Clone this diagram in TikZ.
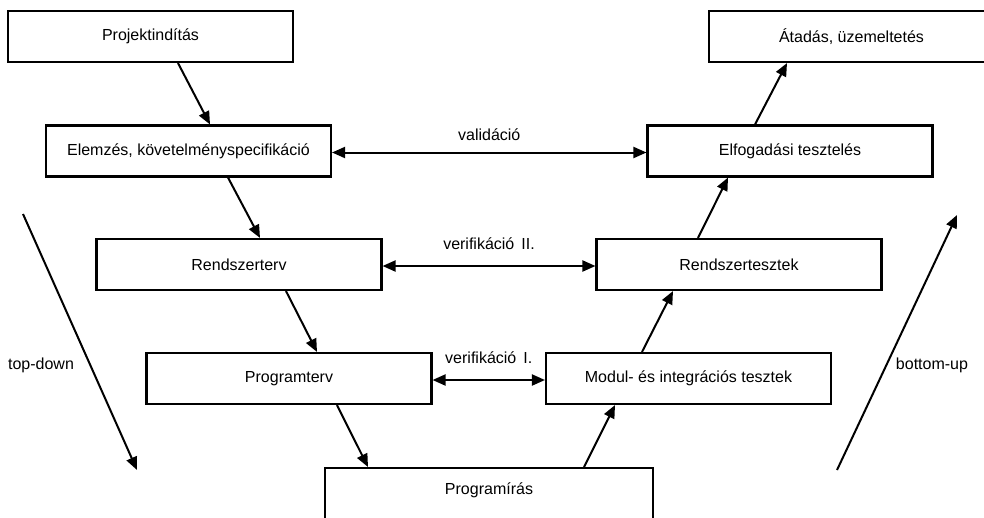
\documentclass[tikz,border=0pt]{standalone}
\usepackage{fontspec}
\setmainfont{Liberation Sans}
\usetikzlibrary{arrows.meta}

\tikzset{
  phase/.style={draw=black, line width=2.1pt, rectangle, inner sep=0pt,
    minimum width=285pt, minimum height=51pt, font=\fontsize{16pt}{19pt}\selectfont},
  flow/.style={line width=2pt, -{Triangle[length=13pt,width=11pt]}},
  both/.style={line width=2pt, {Triangle[length=13pt,width=11pt]}-{Triangle[length=13pt,width=11pt]}},
  lbl/.style={font=\fontsize{16pt}{19pt}\selectfont, inner sep=0pt}
}

\begin{document}
\begin{tikzpicture}[x=1pt, y=-1pt]
  \useasboundingbox (0,0) rectangle (984,517);
  \clip (0,0) rectangle (984,517);

  % left branch: specification and design
  \node[phase] (proj)    at (150.5,36.5) {Projektindítás};
  \node[phase] (elem)    at (188.5,151)  {Elemzés, követelményspecifikáció};
  \node[phase] (rterv)   at (239,264.5)  {Rendszerterv};
  \node[phase] (pterv)   at (289,378.5)  {Programterv};

  % bottom: implementation (extends below the page)
  \node[phase, minimum width=328pt, minimum height=70pt, anchor=north] (pirs) at (489,467) {};
  \node[lbl] (pirslbl) at (489,490) {Programírás};

  % right branch: testing and delivery
  \node[phase] (modul)   at (688.5,378.5){Modul- és integrációs tesztek};
  \node[phase] (rteszt)  at (739,264.5)  {Rendszertesztek};
  \node[phase] (elfog)   at (790,151)    {Elfogadási tesztelés};
  \node[phase] (atadas)  at (851.5,36.5) {Átadás, üzemeltetés};

  % sequence of phases
  \draw[flow] ([xshift=27.5pt]proj.south)  -- ([xshift=21.5pt]elem.north);
  \draw[flow] ([xshift=39.5pt]elem.south)  -- ([xshift=21pt]rterv.north);
  \draw[flow] ([xshift=47pt]rterv.south)   -- ([xshift=28pt]pterv.north);
  \draw[flow] ([xshift=48pt]pterv.south)   -- ([xshift=-121pt]pirs.north);
  \draw[flow] ([xshift=95pt]pirs.north)    -- ([xshift=-73.5pt]modul.south);
  \draw[flow] ([xshift=-46.5pt]modul.north) -- ([xshift=-66pt]rteszt.south);
  \draw[flow] ([xshift=-41pt]rteszt.north) -- ([xshift=-62pt]elfog.south);
  \draw[flow] ([xshift=-35pt]elfog.north)  -- ([xshift=-64.5pt]atadas.south);

  % correspondences between the two branches
  \draw[both] ([yshift=-1.5pt]elem.east) -- ([yshift=-1.5pt]elfog.west)
    node[lbl, midway, yshift=17.5pt] {validáció};
  \draw[both] ([yshift=-1.5pt]rterv.east) -- ([yshift=-1.5pt]rteszt.west)
    node[lbl, midway, yshift=22.5pt] {verifikáció\hspace{7pt}II.};
  \draw[both] ([yshift=-1.5pt]pterv.east) -- ([yshift=-1.5pt]modul.west)
    node[lbl, midway, yshift=22pt] {verifikáció\hspace{7pt}I.};

  % direction arrows at the sides
  \coordinate (tdA) at (23,214);
  \coordinate (tdB) at (137,470);
  \coordinate (buA) at (837,470);
  \coordinate (buB) at (957,215);
  \draw[flow] (tdA) -- (tdB);
  \draw[flow] (buA) -- (buB);
  \node[lbl] (tdlbl) at (41,365)  {top-down};
  \node[lbl] (bulbl) at (932,365) {bottom-up};
\end{tikzpicture}
\end{document}
